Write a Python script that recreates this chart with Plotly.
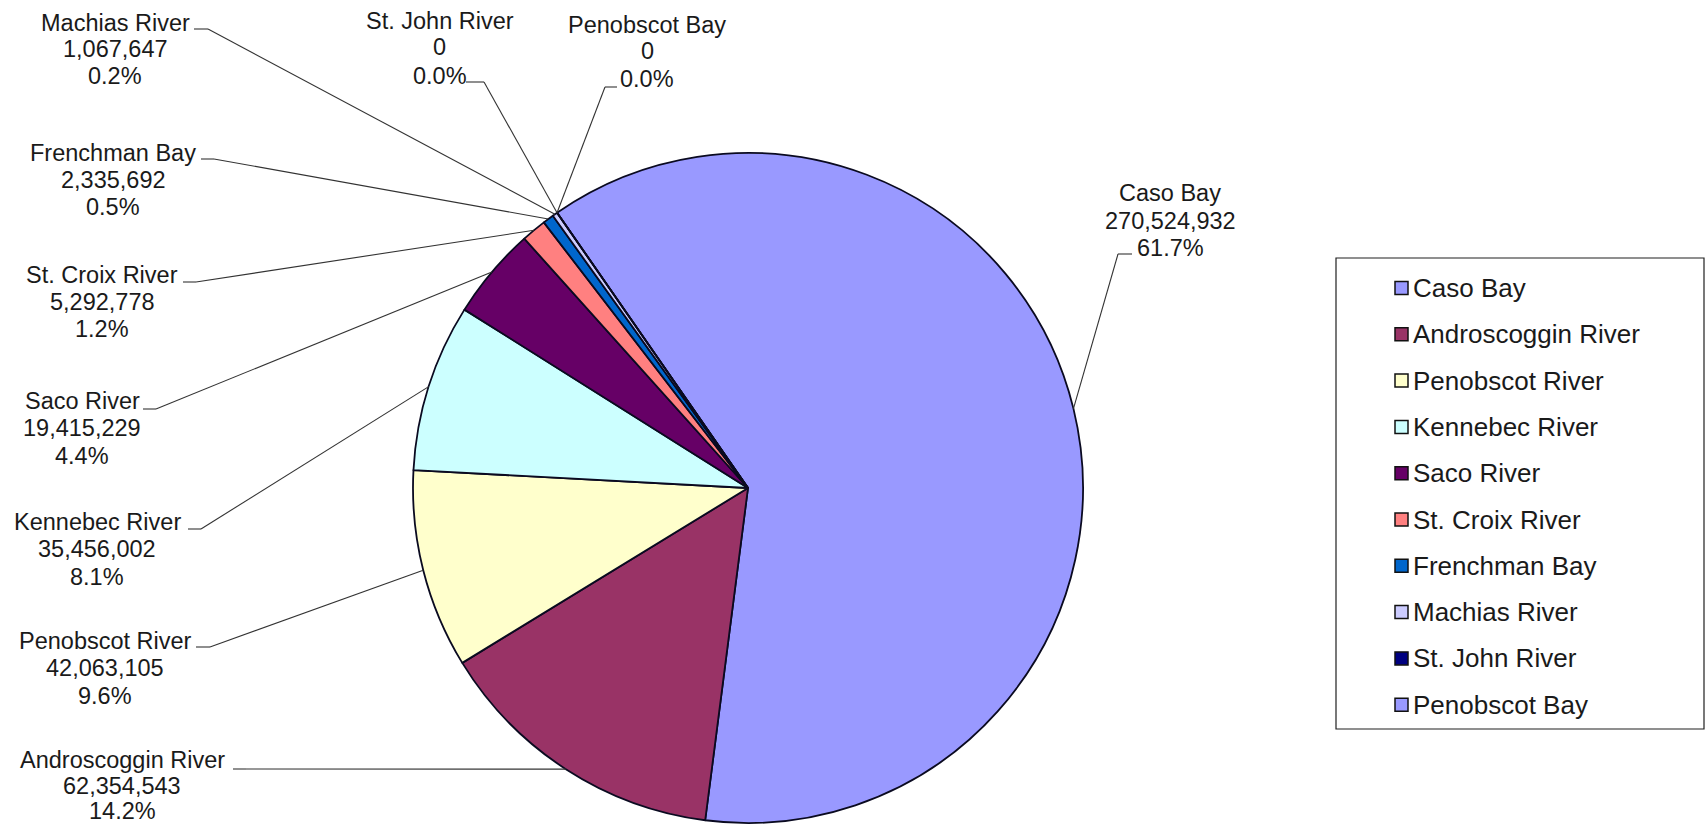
import math
import plotly.graph_objects as go

# ---- data -------------------------------------------------------------
names = ["Caso Bay", "Androscoggin River", "Penobscot River", "Kennebec River",
         "Saco River", "St. Croix River", "Frenchman Bay", "Machias River",
         "St. John River", "Penobscot Bay"]
values = [270524932, 62354543, 42063105, 35456002, 19415229,
          5292778, 2335692, 1067647, 0, 0]
colors = ["#9999FF", "#993366", "#FFFFCC", "#CCFFFF", "#660066",
          "#FF8080", "#0066CC", "#CCCCFF", "#000080", "#9999FF"]

# ---- page / pie geometry ---------------------------------------------
W, H = 1706, 828
DOM_X = [0.19, 0.6869]
DOM_Y = [0.00604, 0.81522]
ROTATION = -34.75          # first slice starts left of 12 o'clock, clockwise

cx = W * (DOM_X[0] + DOM_X[1]) / 2
cy = H * (1 - (DOM_Y[0] + DOM_Y[1]) / 2)
radius = min(W * (DOM_X[1] - DOM_X[0]), H * (DOM_Y[1] - DOM_Y[0])) / 2

TEXT_FONT = dict(family="Liberation Sans, Arial, sans-serif", size=23.5, color="#1a1a1a")
LEGEND_FONT = dict(family="Liberation Sans, Arial, sans-serif", size=26, color="#1a1a1a")
LEADER = dict(color="#333333", width=1.1)

# label block: centre x, three line centres y, tick start/end (pixels)
label_layout = {
    "Caso Bay":           (1170, [193, 221, 248], (1132, 254), (1118, 254)),
    "Androscoggin River": (122,  [760, 786, 811], (233, 769), (246, 769)),
    "Penobscot River":    (105,  [641, 668, 696], (196, 647), (210, 647)),
    "Kennebec River":     (97,   [522, 549, 577], (188, 529), (201, 529)),
    "Saco River":         (82,   [401, 428, 456], (143, 409), (156, 409)),
    "St. Croix River":    (102,  [275, 302, 329], (183, 282), (196, 282)),
    "Frenchman Bay":      (113,  [153, 180, 207], (201, 159), (214, 159)),
    "Machias River":      (115,  [23, 49, 76],    (194, 29),  (208, 29)),
    "St. John River":     (440,  [21, 47, 76],    (466, 82),  (484, 82)),
    "Penobscot Bay":      (647,  [25, 51, 79],    (617, 87),  (605, 87)),
}


def px(x):
    return x / W


def py(y):
    return 1 - y / H


fig = go.Figure(go.Pie(
    labels=names,
    values=values,
    sort=False,
    direction="clockwise",
    rotation=ROTATION,
    domain=dict(x=DOM_X, y=DOM_Y),
    marker=dict(colors=colors, line=dict(color="#0a0a20", width=1.8)),
    textinfo="none",
    hoverinfo="label+value+percent",
    showlegend=False,
))

total = float(sum(values))
annotations = []
shapes = []

cum = 0.0
for name, val in zip(names, values):
    frac = val / total
    mid_deg = ROTATION + 360.0 * (cum + frac / 2)
    cum += frac
    a = math.radians(mid_deg)
    ex = cx + radius * math.sin(a)
    ey = cy - radius * math.cos(a)

    xc, ys, t0, t1 = label_layout[name]
    lines = [name, f"{val:,.0f}", f"{100 * frac:.1f}%"]
    for text, yy in zip(lines, ys):
        annotations.append(dict(
            x=px(xc), y=py(yy), xref="paper", yref="paper",
            text=text, showarrow=False, xanchor="center", yanchor="middle",
            font=TEXT_FONT,
        ))
    shapes.append(dict(type="line", xref="paper", yref="paper",
                       x0=px(t0[0]), y0=py(t0[1]), x1=px(t1[0]), y1=py(t1[1]),
                       line=LEADER))
    shapes.append(dict(type="line", xref="paper", yref="paper",
                       x0=px(t1[0]), y0=py(t1[1]), x1=px(ex), y1=py(ey),
                       line=LEADER))

# ---- legend box -------------------------------------------------------
LEG_BOX = (1336, 258, 1704, 729)
shapes.append(dict(type="rect", xref="paper", yref="paper",
                   x0=px(LEG_BOX[0]), y0=py(LEG_BOX[1]),
                   x1=px(LEG_BOX[2]), y1=py(LEG_BOX[3]),
                   line=dict(color="#202020", width=1.2), fillcolor="white",
                   layer="below"))
row0, row_step = 288, 46.3
sq = 13
sq_x = 1395
for i, (name, col) in enumerate(zip(names, colors)):
    yy = row0 + i * row_step
    shapes.append(dict(type="rect", xref="paper", yref="paper",
                       x0=px(sq_x), y0=py(yy - sq / 2), x1=px(sq_x + sq), y1=py(yy + sq / 2),
                       line=dict(color="#111111", width=1.5), fillcolor=col))
    annotations.append(dict(
        x=px(sq_x + sq + 3), y=py(yy), xref="paper", yref="paper",
        text=name, showarrow=False, xanchor="left", yanchor="middle",
        font=LEGEND_FONT,
    ))

fig.update_layout(
    width=W, height=H,
    margin=dict(l=0, r=0, t=0, b=0),
    paper_bgcolor="white",
    plot_bgcolor="white",
    annotations=annotations,
    shapes=shapes,
)

fig.write_html("out.html")
